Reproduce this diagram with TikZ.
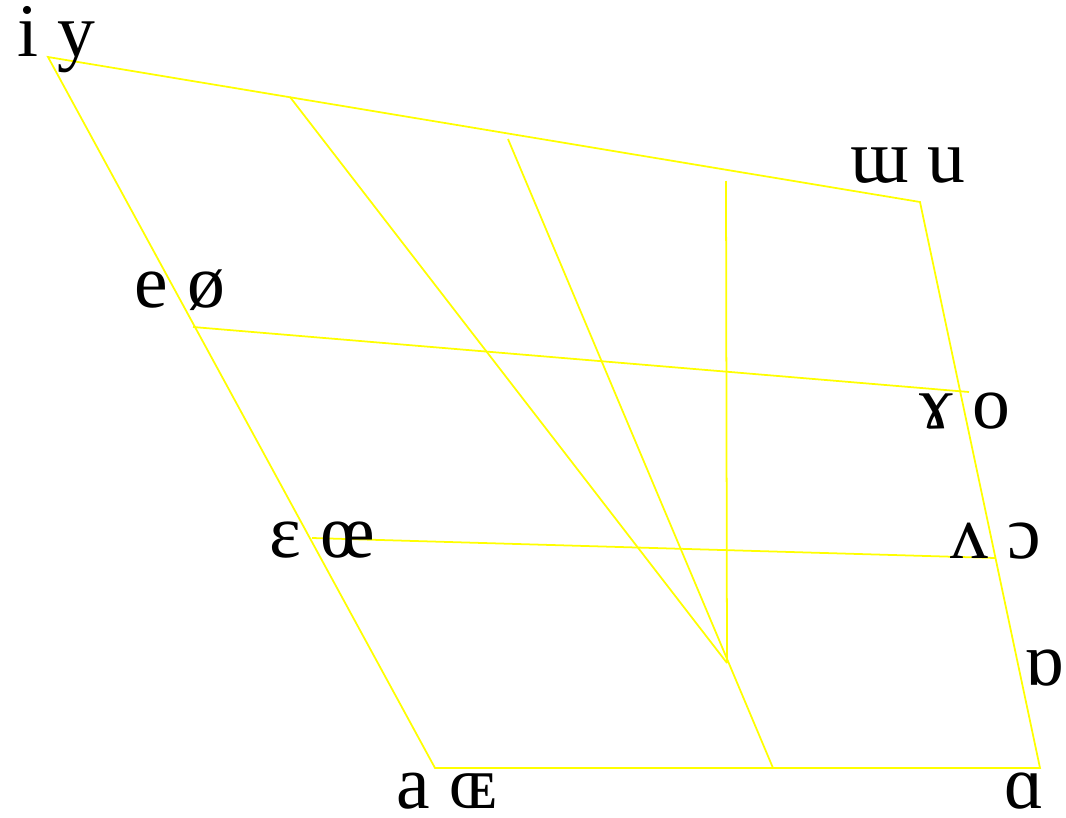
\documentclass[tikz,border=0pt]{standalone}
\usepackage{fontspec}
\setmainfont{Liberation Serif}
\usetikzlibrary{positioning}
\definecolor{chartyellow}{RGB}{255, 255, 0}
\tikzset{
  chartline/.style={draw=chartyellow, line width=0.5pt},
  vowel/.style={anchor=base, inner sep=0pt, font=\fontsize{21.5}{24}\selectfont},
}

\begin{document}
\begin{tikzpicture}[x=0.01cm, y=-0.01cm]
  \useasboundingbox (0,0) rectangle (1066,818);
  % corners of the chart
  \coordinate (frontclose) at (48,57);
  \coordinate (backclose) at (920,202);
  \coordinate (backopen) at (1040,768);
  \coordinate (frontopen) at (435,768);
  \coordinate (frontmid) at (193,327);
  \coordinate (backmid) at (969,392);
  \coordinate (frontlow) at (312,538);
  \coordinate (backlow) at (995,558);
  \coordinate (diagtop) at (290,97);
  \coordinate (diagfoot) at (727,663);
  \coordinate (slanttop) at (508,139);
  \coordinate (slantfoot) at (773,768);
  \coordinate (centtop) at (726,181);
  \draw[chartline] (frontclose) -- (backclose) -- (backopen) -- (frontopen) -- cycle;
  \draw[chartline] (frontmid) -- (backmid);
  \draw[chartline] (frontlow) -- (backlow);
  \draw[chartline] (diagtop) -- (diagfoot);
  \draw[chartline] (slanttop) -- (slantfoot);
  \draw[chartline] (centtop) -- (diagfoot);
  % vowel symbols
  \node[vowel] (iy) at (56,56) {i y};
  \node[vowel] (wu) at (908,182) {ɯ u};
  \node[vowel] (eo) at (180,307) {e ø};
  \node[vowel] (go) at (965,428) {ɤ o};
  \node[vowel] (ee) at (322,557) {ɛ œ};
  \node[vowel] (vc) at (996,558) {ʌ ɔ};
  \node[vowel] (ro) at (1044,685) {ɒ};
  \node[vowel] (ae) at (447,808) {a ɶ};
  \node[vowel] (ao) at (1024,808) {ɑ};
\end{tikzpicture}
\end{document}
